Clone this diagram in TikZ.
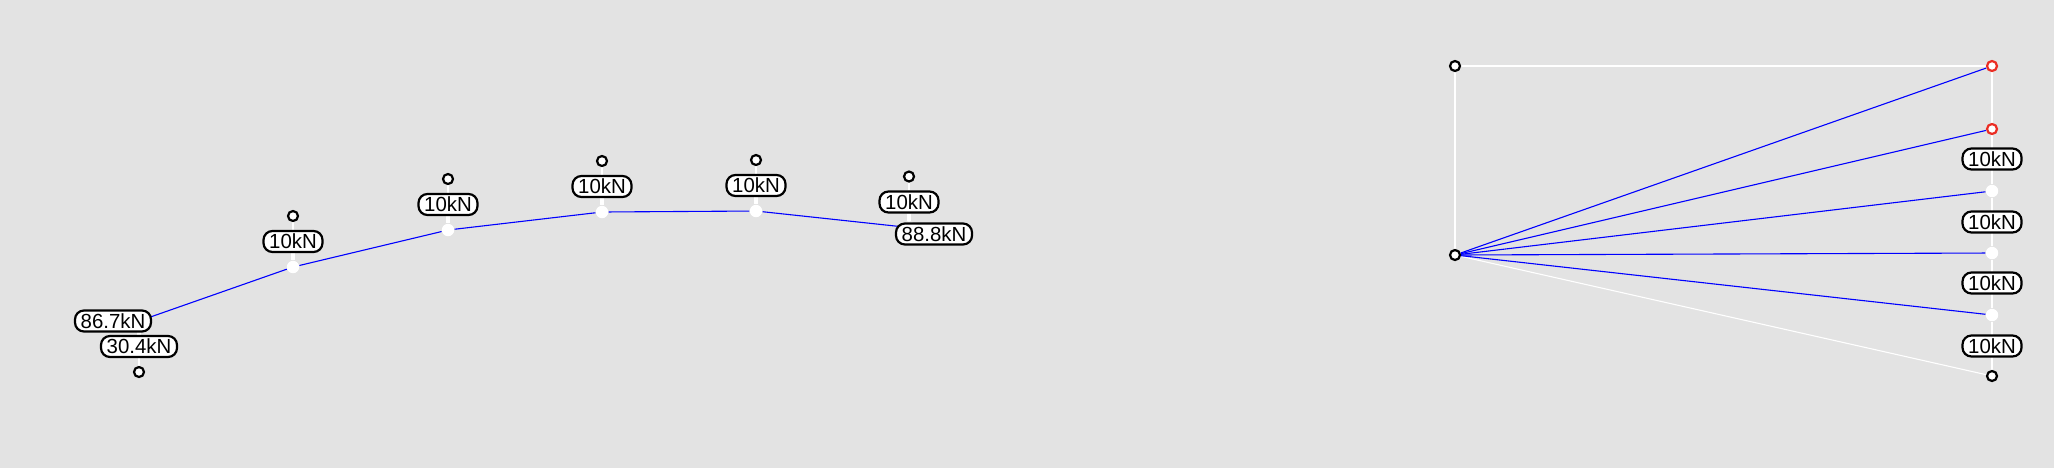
\documentclass[tikz,border=0pt]{standalone}
\usepackage{fontspec}
\setmainfont{Liberation Sans}
\usetikzlibrary{positioning, backgrounds}
\definecolor{bggrey}{RGB}{227, 227, 227}
\definecolor{forceblue}{RGB}{0, 0, 255}
\definecolor{supportred}{RGB}{235, 45, 35}

\begin{document}
\begin{tikzpicture}[x=0.5pt, y=-0.5pt, node distance=12.75pt, on grid,
    load/.style={rectangle, rounded corners=4.5pt, draw=black, fill=white, line width=1.1pt, minimum height=10.5pt, inner xsep=2.85pt, inner ysep=0pt, font=\fontsize{10.2pt}{10.5pt}\selectfont},
    ring/.style={circle, draw=black, fill=white, line width=1.1pt, minimum size=5pt, inner sep=0pt},
    redring/.style={ring, draw=supportred},
    dot/.style={circle, fill=white, minimum size=6.2pt, inner sep=0pt},
    member/.style={forceblue, line width=0.55pt},
    slim/.style={white, line width=0.55pt},
    stub/.style={white, line width=1.7pt}
]

% Funicular
\node (P1) [dot] at (139,321) {};
\node (P2) [dot] at (293,267) {};
\node (P3) [dot] at (448,230) {};
\node (P4) [dot] at (602,212) {};
\node (P5) [dot] at (756,211) {};
\node (P6) [dot] at (909,227.5) {};

% Load labels
\node (L1) [load, below=of P1] {30.4kN};
\node (L2) [load, above=of P2] {10kN};
\node (L3) [load, above=of P3] {10kN};
\node (L4) [load, above=of P4] {10kN};
\node (L5) [load, above=of P5] {10kN};
\node (L6) [load, above=of P6] {10kN};

% Load tails
\node (T1) [ring, below=of L1] {};
\node (T2) [ring, above=of L2] {};
\node (T3) [ring, above=of L3] {};
\node (T4) [ring, above=of L4] {};
\node (T5) [ring, above=of L5] {};
\node (T6) [ring, above=of L6] {};

% Reaction labels
\node (RA) [load] at (113,321) {86.7kN};
\node (RB) [load] at (934,234) {88.8kN};

% Form diagram
\node (O) [ring] at (1455,255) {};
\node (Q) [ring] at (1455,66) {};
\node (A0) [redring] at (1992,66) {};
\node (A1) [redring] at (1992,129) {};
\node (A2) [dot] at (1992,191) {};
\node (A3) [dot] at (1992,253) {};
\node (A4) [dot] at (1992,315) {};
\node (A5) [ring] at (1992,376) {};

% Force labels
\node (F1) [load] at (1992,159) {10kN};
\node (F2) [load] at (1992,222) {10kN};
\node (F3) [load] at (1992,283) {10kN};
\node (F4) [load] at (1992,346) {10kN};

\begin{scope}[on background layer]
\path [fill=bggrey, use as bounding box] (0,0) rectangle (2054,468);

% White lines
\foreach \n in {1,...,6} {
    \draw [slim] (T\n) -- (L\n);
    \draw [stub] (L\n) -- (P\n);
}
\draw [slim] (Q) -- (A0);
\draw [slim] (A0) -- (A1);
\draw [slim] (A1) -- (A2);
\draw [slim] (A2) -- (A3);
\draw [slim] (A3) -- (A4);
\draw [slim] (A4) -- (A5);
\draw [slim] (O) -- (A5);
\draw [stub, line width=0.9pt] (Q) -- (O);

% Blue members
\draw [member] (P1) -- (P2);
\draw [member] (P2) -- (P3);
\draw [member] (P3) -- (P4);
\draw [member] (P4) -- (P5);
\draw [member] (P5) -- (P6);
\foreach \n in {0,...,4} {
    \draw [member] (O) -- (A\n);
}
\end{scope}

\end{tikzpicture}
\end{document}
